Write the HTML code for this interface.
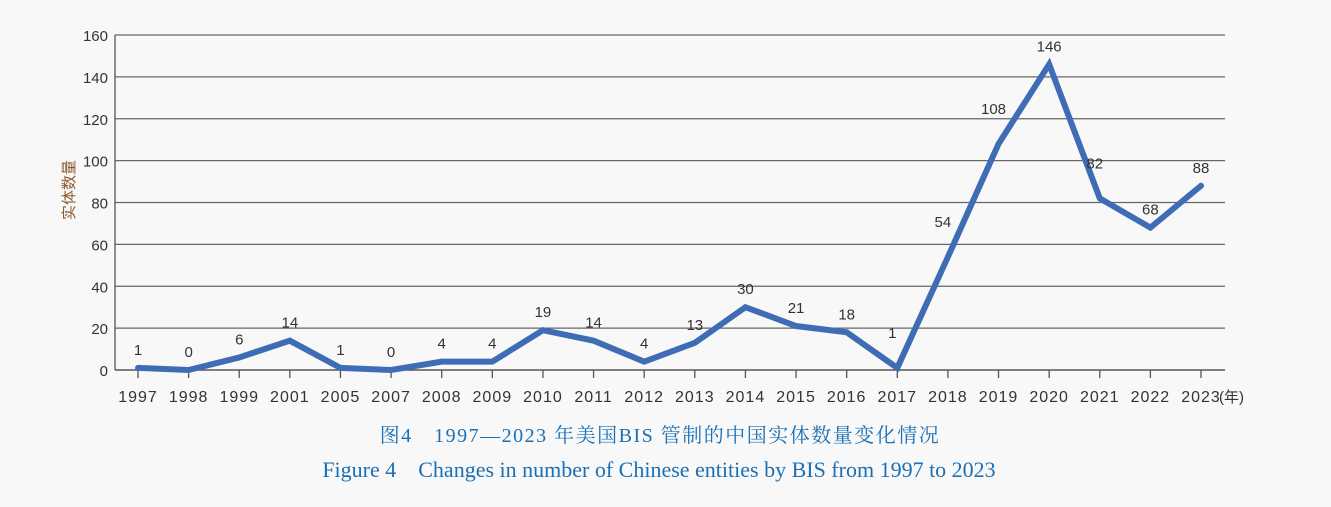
<!DOCTYPE html>
<html><head><meta charset="utf-8"><style>
body{margin:0;background:#f8f8f8;}
svg{display:block;font-family:"Liberation Sans","Noto Sans CJK SC",sans-serif;}
</style></head><body>
<svg width="1331" height="507" viewBox="0 0 1331 507">
<rect width="1331" height="507" fill="#f8f8f8"/>
<g id="grid"></g><g id="axes"></g><g id="series"></g><g id="labels"></g>
<text x="74" y="190" transform="rotate(-90 74 190)" text-anchor="middle" font-size="15" fill="#8a5a2b">实体数量</text>
<text x="1219" y="402" font-size="15" fill="#333">(年)</text>
<text x="660" y="442" text-anchor="middle" font-size="20" letter-spacing="1.5" fill="#1a6fb5" font-family="'Liberation Serif','Noto Serif CJK SC',serif">图4　1997—2023 年美国BIS 管制的中国实体数量变化情况</text>
<text x="659" y="477" text-anchor="middle" font-size="22" fill="#1a6fb5" font-family="'Liberation Serif',serif">Figure 4　Changes in number of Chinese entities by BIS from 1997 to 2023</text>
</svg>
<script>
const categories=["1997","1998","1999","2001","2005","2007","2008","2009","2010","2011","2012","2013","2014","2015","2016","2017","2018","2019","2020","2021","2022","2023"];
const values=[1,0,6,14,1,0,4,4,19,14,4,13,30,21,18,1,54,108,146,82,68,88];
const yTicks=[0,20,40,60,80,100,120,140,160];
const NS="http://www.w3.org/2000/svg";
const x0=138,dx=(1201-138)/21,yb=370,yt=35,yMax=160,left=115,right=1225;
const X=i=>x0+i*dx, Y=v=>yb-(v/yMax)*(yb-yt);
function mk(tag,at,parent){const e=document.createElementNS(NS,tag);for(const k in at)e.setAttribute(k,at[k]);document.getElementById(parent).appendChild(e);return e;}
yTicks.forEach(t=>{
 if(t>0){const l=mk('line',{x1:left,x2:right,y1:Y(t),y2:Y(t),stroke:'#666','stroke-width':1.3},'grid');
 
 }
 const tx=mk('text',{x:108,y:Y(t)+6,'text-anchor':'end','font-size':15,fill:'#333'},'axes');tx.textContent=t;
 
 
});
let a=mk('line',{x1:left,x2:left,y1:yt,y2:yb,stroke:'#555','stroke-width':1.3},'axes');


a=mk('line',{x1:left,x2:right,y1:yb,y2:yb,stroke:'#555','stroke-width':1.5},'axes');


categories.forEach((c,i)=>{
 const tk=mk('line',{x1:X(i),x2:X(i),y1:yb,y2:yb+8,stroke:'#555','stroke-width':1.3},'axes');
 
 
 const t=mk('text',{x:X(i),y:402,'text-anchor':'middle','font-size':16,'letter-spacing':1,fill:'#333'},'axes');t.textContent=c;
 
 
});
const pl=mk('polyline',{points:values.map((v,i)=>X(i)+','+Y(v)).join(' '),fill:'none',stroke:'#3f6db5','stroke-width':6,'stroke-linejoin':'miter','stroke-linecap':'round'},'series');


values.forEach((v,i)=>{
 // labels on steep segments sit higher and slightly left, as in the reference
 const prev=i>0?values[i-1]:v, next=i<values.length-1?values[i+1]:v;
 const steep=Math.abs(v-prev)>30||Math.abs(v-next)>30;
 const peak=v>=prev&&v>=next;
 const off=peak&&v>100?13:(steep?(i===values.length-1?20:30):13);
 const sx=steep&&!peak?-5:0;
 const t=mk('text',{x:X(i)+sx,y:Y(v)-off,'text-anchor':'middle','font-size':15,fill:'#333'},'labels');t.textContent=v;
 
 
});
</script>
</body></html>
